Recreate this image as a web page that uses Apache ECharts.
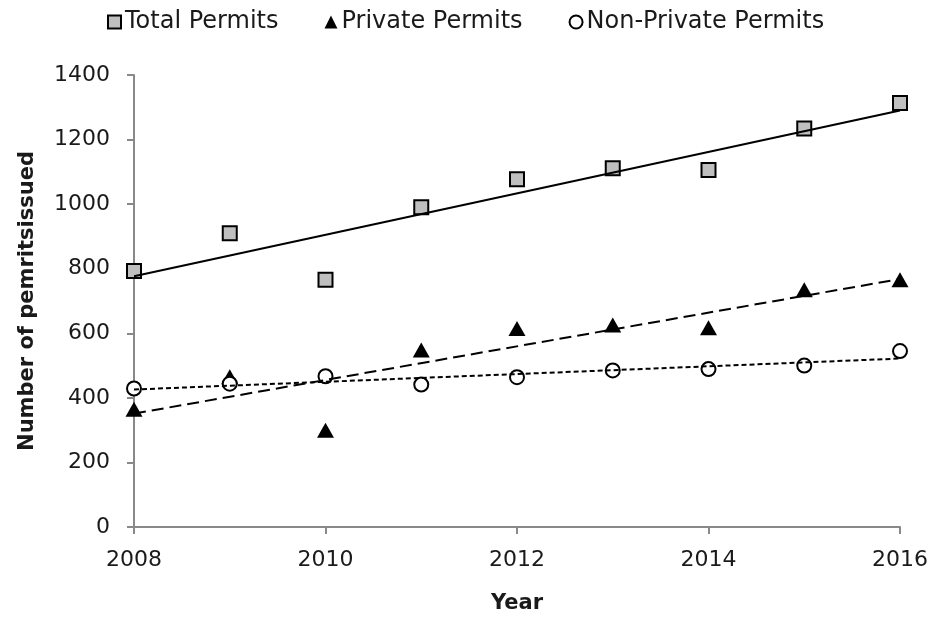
<!DOCTYPE html>
<html>
<head>
<meta charset="utf-8">
<script src="https://cdn.jsdelivr.net/npm/echarts@6/dist/echarts.min.js"></script>
<style>
html,body{margin:0;padding:0;background:#fff;}
#chart{width:931px;height:619px;}
</style>
</head>
<body>
<div id="chart"></div>
<script>
const years = [2008, 2009, 2010, 2011, 2012, 2013, 2014, 2015, 2016];
const totalPermits = [793, 910, 766, 990, 1077, 1111, 1106, 1234, 1313];
const privatePermits = [365, 465, 300, 548, 615, 626, 617, 735, 766];
const nonPrivatePermits = [429, 444, 467, 441, 464, 485, 489, 500, 545];
const seriesNames = ['Total Permits', 'Private Permits', 'Non-Private Permits'];
const yTicks = [0, 200, 400, 600, 800, 1000, 1200, 1400];
const xTicks = [2008, 2010, 2012, 2014, 2016];

function pairs(xs, ys) { return xs.map((x, i) => [x, ys[i]]); }
function linearFit(xs, ys) {
  const n = xs.length;
  const mx = xs.reduce((a, b) => a + b, 0) / n;
  const my = ys.reduce((a, b) => a + b, 0) / n;
  let sxy = 0, sxx = 0;
  for (let i = 0; i < n; i++) { sxy += (xs[i] - mx) * (ys[i] - my); sxx += (xs[i] - mx) * (xs[i] - mx); }
  const b = sxy / sxx, a = my - b * mx;
  const x0 = xs[0], x1 = xs[n - 1];
  return [[x0, a + b * x0], [x1, a + b * x1]];
}

const FONT = 'DejaVu Sans';
const axisColor = '#898989';
const textColor = '#1a1a1a';

const chart = echarts.init(document.getElementById('chart'), null, {renderer: 'canvas'});
chart.setOption({
  animation: false,
  backgroundColor: '#ffffff',
  textStyle: {fontFamily: FONT},
  grid: {left: 134, right: 29, top: 75, bottom: 89, containLabel: false},
  legend: {
    data: seriesNames,
    left: 102, top: 5,
    itemWidth: 13, itemHeight: 13, itemGap: 46,
    textStyle: {fontFamily: FONT, fontSize: 24, color: textColor, padding: [0, 0, 0, -1]},
    selectedMode: false
  },
  xAxis: {
    type: 'value', min: xTicks[0], max: xTicks[xTicks.length - 1], interval: 2,
    name: 'Year', nameLocation: 'middle', nameGap: 66,
    nameTextStyle: {fontFamily: FONT, fontSize: 21, fontWeight: 'bold', color: textColor},
    axisLine: {show: true, lineStyle: {color: axisColor, width: 2}},
    axisTick: {show: true, length: 7, lineStyle: {color: axisColor, width: 2}},
    axisLabel: {fontFamily: FONT, fontSize: 22, color: textColor, margin: 22, formatter: v => String(v)},
    splitLine: {show: false}
  },
  yAxis: {
    type: 'value', min: yTicks[0], max: yTicks[yTicks.length - 1], interval: 200,
    name: 'Number of pemritsissued', nameLocation: 'middle', nameGap: 96,
    nameTextStyle: {fontFamily: FONT, fontSize: 21, fontWeight: 'bold', color: textColor},
    axisLine: {show: true, lineStyle: {color: axisColor, width: 2}},
    axisTick: {show: true, length: 7, lineStyle: {color: axisColor, width: 2}},
    axisLabel: {fontFamily: FONT, fontSize: 22, color: textColor, margin: 24, formatter: v => String(v)},
    splitLine: {show: false}
  },
  series: [
    {
      name: seriesNames[0], type: 'scatter', symbol: 'rect', symbolSize: 14, z: 2,
      itemStyle: {color: '#BFBFBF', borderColor: '#000', borderWidth: 2, opacity: 1},
      data: pairs(years, totalPermits)
    },
    {
      name: seriesNames[1], type: 'scatter', symbol: 'triangle', symbolSize: [17, 15], z: 2,
      itemStyle: {color: '#000', opacity: 1},
      data: pairs(years, privatePermits)
    },
    {
      name: seriesNames[2], type: 'scatter', symbol: 'circle', symbolSize: 14, z: 2,
      itemStyle: {color: '#fff', borderColor: '#000', borderWidth: 2, opacity: 1},
      data: pairs(years, nonPrivatePermits)
    },
    {
      name: 'trend-total', type: 'line', showSymbol: false, symbol: 'none', z: 5, silent: true,
      lineStyle: {color: '#000', width: 2, type: 'solid'},
      data: linearFit(years, totalPermits)
    },
    {
      name: 'trend-private', type: 'line', showSymbol: false, symbol: 'none', z: 5, silent: true,
      lineStyle: {color: '#000', width: 2, type: [12, 6]},
      data: linearFit(years, privatePermits)
    },
    {
      name: 'trend-nonprivate', type: 'line', showSymbol: false, symbol: 'none', z: 5, silent: true,
      lineStyle: {color: '#000', width: 2, type: [5, 3]},
      data: linearFit(years, nonPrivatePermits)
    }
  ]
});
</script>
</body>
</html>
